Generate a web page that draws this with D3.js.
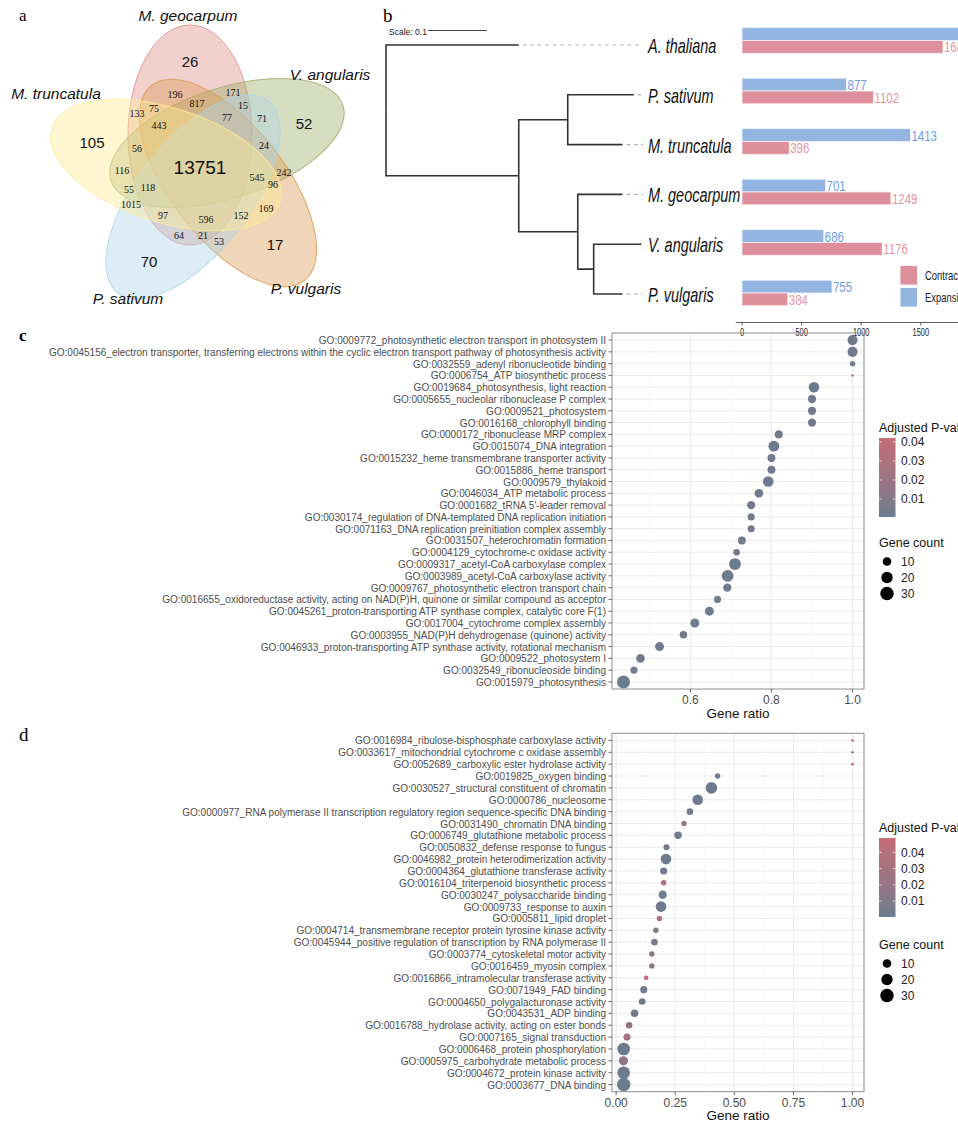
<!DOCTYPE html>
<html>
<head>
<meta charset="utf-8">
<script src="https://cdn.jsdelivr.net/npm/d3@7"></script>
<style>
  body { margin: 0; background: #fff; }
  svg { display: block; }
</style>
</head>
<body>
<div class="canvas"></div>
<script>
// ---------- panel a : five-set venn ----------
const vennSets = ["M. geocarpum", "V. angularis", "P. vulgaris", "P. sativum", "M. truncatula"];
const vennCounts = [26, 52, 17, 70, 105, 13751,
  196, 171, 817, 15, 133, 75, 77, 71, 443, 56, 24, 116, 242, 545,
  96, 55, 118, 1015, 169, 97, 596, 152, 64, 21, 53];

// ---------- panel b : tree + gene family bars ----------
const species = ["A. thaliana", "P. sativum", "M. truncatula", "M. geocarpum", "V. angularis", "P. vulgaris"];
const expansion = [2050, 877, 1413, 701, 686, 755];
const contraction = [1686, 1102, 396, 1249, 1176, 384];
const barTicks = [0, 500, 1000, 1500, 2000];
const branchLengths = {
  "A. thaliana": 0.225, "legumes": 0.225,
  "pea clade": 0.083, "P. sativum": 0.112, "M. truncatula": 0.093,
  "bean clade": 0.1, "M. geocarpum": 0.076,
  "phaseoloid": 0.027, "V. angularis": 0.081, "P. vulgaris": 0.049
};
const treeShape = ["root", "A. thaliana", ["legumes",
  ["pea clade", "P. sativum", "M. truncatula"],
  ["bean clade", "M. geocarpum", ["phaseoloid", "V. angularis", "P. vulgaris"]]]];

// ---------- panel c : GO enrichment (expanded) ----------
const cTerms = [
  "GO:0009772_photosynthetic electron transport in photosystem II",
  "GO:0045156_electron transporter, transferring electrons within the cyclic electron transport pathway of photosynthesis activity",
  "GO:0032559_adenyl ribonucleotide binding",
  "GO:0006754_ATP biosynthetic process",
  "GO:0019684_photosynthesis, light reaction",
  "GO:0005655_nucleolar ribonuclease P complex",
  "GO:0009521_photosystem",
  "GO:0016168_chlorophyll binding",
  "GO:0000172_ribonuclease MRP complex",
  "GO:0015074_DNA integration",
  "GO:0015232_heme transmembrane transporter activity",
  "GO:0015886_heme transport",
  "GO:0009579_thylakoid",
  "GO:0046034_ATP metabolic process",
  "GO:0001682_tRNA 5'-leader removal",
  "GO:0030174_regulation of DNA-templated DNA replication initiation",
  "GO:0071163_DNA replication preinitiation complex assembly",
  "GO:0031507_heterochromatin formation",
  "GO:0004129_cytochrome-c oxidase activity",
  "GO:0009317_acetyl-CoA carboxylase complex",
  "GO:0003989_acetyl-CoA carboxylase activity",
  "GO:0009767_photosynthetic electron transport chain",
  "GO:0016655_oxidoreductase activity, acting on NAD(P)H, quinone or similar compound as acceptor",
  "GO:0045261_proton-transporting ATP synthase complex, catalytic core F(1)",
  "GO:0017004_cytochrome complex assembly",
  "GO:0003955_NAD(P)H dehydrogenase (quinone) activity",
  "GO:0046933_proton-transporting ATP synthase activity, rotational mechanism",
  "GO:0009522_photosystem I",
  "GO:0032549_ribonucleoside binding",
  "GO:0015979_photosynthesis"
];
const cRatio = [1, 1, 1, 1, 0.905, 0.9, 0.9, 0.9, 0.818, 0.806, 0.8, 0.8, 0.792, 0.769, 0.75,
  0.75, 0.75, 0.727, 0.714, 0.71, 0.692, 0.691, 0.667, 0.647, 0.611, 0.583, 0.524, 0.477, 0.461, 0.435];
const cCount = [15, 15, 3, 1, 17, 9, 9, 9, 9, 18, 8, 8, 17, 10, 9, 6, 6, 8, 5, 22, 22, 9, 6, 11, 11, 7, 11, 10, 6, 28];
const cPadj = [0.002, 0.002, 0.003, 0.042, 0.001, 0.002, 0.002, 0.002, 0.002, 0.001, 0.002, 0.002, 0.001, 0.002, 0.002,
  0.002, 0.002, 0.002, 0.003, 0.001, 0.001, 0.002, 0.003, 0.002, 0.002, 0.003, 0.002, 0.002, 0.003, 0.0006];
const cTicks = [0.6, 0.8, 1.0];

// ---------- panel d : GO enrichment (contracted) ----------
const dTerms = [
  "GO:0016984_ribulose-bisphosphate carboxylase activity",
  "GO:0033617_mitochondrial cytochrome c oxidase assembly",
  "GO:0052689_carboxylic ester hydrolase activity",
  "GO:0019825_oxygen binding",
  "GO:0030527_structural constituent of chromatin",
  "GO:0000786_nucleosome",
  "GO:0000977_RNA polymerase II transcription regulatory region sequence-specific DNA binding",
  "GO:0031490_chromatin DNA binding",
  "GO:0006749_glutathione metabolic process",
  "GO:0050832_defense response to fungus",
  "GO:0046982_protein heterodimerization activity",
  "GO:0004364_glutathione transferase activity",
  "GO:0016104_triterpenoid biosynthetic process",
  "GO:0030247_polysaccharide binding",
  "GO:0009733_response to auxin",
  "GO:0005811_lipid droplet",
  "GO:0004714_transmembrane receptor protein tyrosine kinase activity",
  "GO:0045944_positive regulation of transcription by RNA polymerase II",
  "GO:0003774_cytoskeletal motor activity",
  "GO:0016459_myosin complex",
  "GO:0016866_intramolecular transferase activity",
  "GO:0071949_FAD binding",
  "GO:0004650_polygalacturonase activity",
  "GO:0043531_ADP binding",
  "GO:0016788_hydrolase activity, acting on ester bonds",
  "GO:0007165_signal transduction",
  "GO:0006468_protein phosphorylation",
  "GO:0005975_carbohydrate metabolic process",
  "GO:0004672_protein kinase activity",
  "GO:0003677_DNA binding"
];
const dRatio = [1, 1, 1, 0.429, 0.403, 0.345, 0.312, 0.287, 0.262, 0.213, 0.211, 0.201, 0.201, 0.197, 0.19,
  0.183, 0.168, 0.162, 0.151, 0.151, 0.127, 0.117, 0.11, 0.078, 0.055, 0.046, 0.032, 0.031, 0.032, 0.032];
const dCount = [1, 1, 1, 3, 21, 17, 5, 3, 7, 4, 17, 6, 3, 9, 17, 3, 3, 5, 3, 3, 2, 6, 5, 7, 5, 6, 26, 12, 26, 30];
const dPadj = [0.046, 0.046, 0.0488, 0.002, 0.001, 0.001, 0.002, 0.02, 0.003, 0.004, 0.001, 0.004, 0.035, 0.003, 0.001,
  0.035, 0.012, 0.006, 0.014, 0.014, 0.045, 0.003, 0.003, 0.004, 0.02, 0.03, 0.0005, 0.016, 0.001, 0.0002];
const dTicks = [0, 0.25, 0.5, 0.75, 1.0];

const pTicks = [0.01, 0.02, 0.03, 0.04];
const countTicks = [10, 20, 30];

// ---------- layout ----------
const width = 958;
const height = 1126;
const NARROW = "'Liberation Sans Narrow','Arial Narrow','Liberation Sans',Arial,sans-serif";
const SANS = "'Liberation Sans',Arial,Helvetica,sans-serif";
const SERIF = "'Liberation Serif','Times New Roman',serif";

const svg = d3.select(".canvas").append("svg")
  .attr("width", width).attr("height", height)
  .style("font-family", SANS);

function textWidth(str, size, family, style) {
  const t = svg.append("text").style("font-family", family).style("font-size", size + "px")
    .style("font-style", style || "normal").text(str);
  const w = t.node().getComputedTextLength();
  t.remove();
  return w;
}

// panel letters
svg.append("text").attr("x", 19).attr("y", 21).style("font-family", SERIF).style("font-size", "17px").text("a");
svg.append("text").attr("x", 383).attr("y", 22).style("font-family", SERIF).style("font-size", "19px").text("b");
svg.append("text").attr("x", 19).attr("y", 341).style("font-family", SERIF).style("font-size", "17px").style("font-weight", "bold").text("c");
svg.append("text").attr("x", 19).attr("y", 741).style("font-family", SERIF).style("font-size", "19px").text("d");

// ================= a : venn =================
const vennShapes = [
  { cx: 190, cy: 135, rx: 110, ry: 62, angle: 90, fill: "#DF8E8A" },
  { cx: 227, cy: 143, rx: 122, ry: 55, angle: -18, fill: "#A0AE6C" },
  { cx: 228, cy: 183, rx: 124, ry: 57, angle: 52, fill: "#DC9A55" },
  { cx: 193, cy: 197, rx: 122, ry: 56, angle: -52, fill: "#ABD5E8" },
  { cx: 166, cy: 165, rx: 120, ry: 57, angle: 18, fill: "#FFEB94" }
];
const vennNamePos = [[188, 16], [330, 75], [306, 289], [128, 299], [56, 94]];
const vennCountPos = [[190, 62], [304, 124], [275, 245], [149, 262], [92, 143], [200, 167],
  [175, 94], [233, 92], [197, 103], [243, 105], [137, 113], [154, 108], [227, 117], [262, 118], [159, 125],
  [137, 148], [264, 145], [122, 170], [284, 172], [257, 177], [273, 184], [129, 189], [148, 187], [131, 204],
  [266, 208], [163, 215], [206, 219], [241, 215], [179, 235], [203, 235], [219, 241]];

const venn = svg.append("g");
venn.selectAll("ellipse").data(vennShapes).enter().append("ellipse")
  .attr("transform", d => `translate(${d.cx},${d.cy}) rotate(${d.angle})`)
  .attr("rx", d => d.rx).attr("ry", d => d.ry)
  .attr("fill", d => d.fill).attr("fill-opacity", 0.42)
  .attr("stroke", d => d.fill).attr("stroke-opacity", 0.85).attr("stroke-width", 1);

venn.selectAll("text.set").data(vennSets).enter().append("text")
  .attr("class", "set")
  .attr("x", (d, i) => vennNamePos[i][0]).attr("y", (d, i) => vennNamePos[i][1])
  .attr("text-anchor", "middle").attr("dy", "0.35em")
  .style("font-style", "italic").style("font-size", "15.5px").attr("fill", "#111")
  .text(d => d);

venn.selectAll("text.count").data(vennCounts).enter().append("text")
  .attr("class", "count")
  .attr("x", (d, i) => vennCountPos[i][0]).attr("y", (d, i) => vennCountPos[i][1])
  .attr("text-anchor", "middle").attr("dy", "0.35em")
  .style("font-family", (d, i) => i < 6 ? SANS : SERIF)
  .style("font-size", (d, i) => i === 5 ? "19px" : i < 5 ? "15px" : "10px")
  .attr("fill", "#111")
  .text(d => d);

// ================= b : tree =================
function toNode(shape) {
  if (typeof shape === "string") return { name: shape, len: branchLengths[shape] || 0 };
  const [name, ...kids] = shape;
  return { name: name, len: branchLengths[name] || 0, children: kids.map(toNode) };
}
const root = d3.hierarchy(toNode(treeShape));
root.eachBefore(n => { n.dist = n.parent ? n.parent.dist + n.data.len : 0; });

const tx = d3.scaleLinear().domain([0, 0.1]).range([386, 445]);
const ty = d3.scalePoint().domain(species).range([45, 294]);
root.eachAfter(n => {
  n.py = n.children ? d3.mean(n.children, c => c.py) : ty(n.data.name);
});

const tree = svg.append("g");
tree.selectAll("path.branch").data(root.descendants().filter(n => n.parent)).enter().append("path")
  .attr("class", "branch")
  .attr("d", n => `M${tx(n.parent.dist)},${n.parent.py}V${n.py}H${tx(n.dist)}`)
  .attr("fill", "none").attr("stroke", "#333").attr("stroke-width", 1.6);

const tipEnd = 643;
tree.selectAll("line.dash").data(root.leaves().filter(n => tx(n.dist) < tipEnd - 6)).enter().append("line")
  .attr("x1", n => tx(n.dist) + 4).attr("x2", tipEnd)
  .attr("y1", n => n.py).attr("y2", n => n.py)
  .attr("stroke", "#AAAAAA").attr("stroke-width", 1.1).attr("stroke-dasharray", "3.5,4");

const tipScale = Math.min(1, 92.5 / textWidth("M. geocarpum", 20, NARROW, "italic"));
tree.selectAll("text.tip").data(root.leaves()).enter().append("text")
  .attr("transform", n => `translate(648,${n.py + 1}) scale(${tipScale},1)`)
  .attr("dy", "0.35em")
  .style("font-family", NARROW).style("font-style", "italic").style("font-size", "20px").attr("fill", "#111")
  .text(n => n.data.name);

// scale bar
const smallScale = Math.min(1, 38 / textWidth("Scale: 0.1", 9.5, NARROW));
tree.append("text").attr("transform", `translate(389,32) scale(${smallScale},1)`).attr("dy", "0.35em")
  .style("font-family", NARROW).style("font-size", "9.5px").attr("fill", "#222").text("Scale: 0.1");
tree.append("line").attr("x1", 428).attr("x2", 428 + tx(0.1) - tx(0)).attr("y1", 30.5).attr("y2", 30.5)
  .attr("stroke", "#444").attr("stroke-width", 1);

// bars
const bx = d3.scaleLinear().domain([0, 1500]).range([742, 920.8]);
const by = d3.scalePoint().domain(species).range([40.5, 293]);
const barH = 12.8;
const expCol = "#93B5E1", conCol = "#DD8F9B";
const expText = "#6B9EE6", conText = "#E8939E";

const bars = svg.append("g");
bars.selectAll("rect.exp").data(species).enter().append("rect")
  .attr("x", bx(0)).attr("y", d => by(d) - barH)
  .attr("width", (d, i) => bx(expansion[i]) - bx(0)).attr("height", barH)
  .attr("fill", expCol).attr("stroke", "#F0F3FA").attr("stroke-width", 0.8);
bars.selectAll("rect.con").data(species).enter().append("rect")
  .attr("x", bx(0)).attr("y", d => by(d))
  .attr("width", (d, i) => bx(contraction[i]) - bx(0)).attr("height", barH)
  .attr("fill", conCol).attr("stroke", "#FAEFF1").attr("stroke-width", 0.8);

const valScale = Math.min(1, 24.7 / textWidth("1102", 14.5, NARROW));
bars.selectAll("text.exp").data(species).enter().append("text")
  .attr("transform", (d, i) => `translate(${bx(expansion[i]) + 1},${by(d) - barH / 2}) scale(${valScale},1)`)
  .attr("dy", "0.38em").style("font-family", NARROW).style("font-size", "14.5px").attr("fill", expText)
  .text((d, i) => expansion[i]);
bars.selectAll("text.con").data(species).enter().append("text")
  .attr("transform", (d, i) => `translate(${bx(contraction[i]) + 1},${by(d) + barH / 2}) scale(${valScale},1)`)
  .attr("dy", "0.38em").style("font-family", NARROW).style("font-size", "14.5px").attr("fill", conText)
  .text((d, i) => contraction[i]);

const barAxis = bars.append("g").attr("transform", "translate(0,322.5)");
barAxis.append("line").attr("x1", 735.7).attr("x2", width).attr("stroke", "#333").attr("stroke-width", 0.8);
const tickScale = Math.min(1, 16.6 / textWidth("1000", 10, NARROW));
barAxis.selectAll("line.t").data(barTicks).enter().append("line")
  .attr("x1", d => bx(d)).attr("x2", d => bx(d)).attr("y1", 0).attr("y2", 3)
  .attr("stroke", "#333").attr("stroke-width", 0.8);
barAxis.selectAll("text").data(barTicks).enter().append("text")
  .attr("transform", d => `translate(${bx(d)},10) scale(${tickScale},1)`)
  .attr("text-anchor", "middle").attr("dy", "0.35em")
  .style("font-family", NARROW).style("font-size", "10px").attr("fill", "#222").text(d => d);

// legend
const legScale = Math.min(1, 33 / textWidth("Contrac", 13, NARROW));
const legItems = [["Contraction", conCol], ["Expansion", expCol]];
const leg = bars.selectAll("g.leg").data(legItems).enter().append("g")
  .attr("transform", (d, i) => `translate(900,${265.5 + i * 22})`);
leg.append("rect").attr("width", 17.5).attr("height", 19.5).attr("fill", d => d[1])
  .attr("stroke", "#fff").attr("stroke-width", 0.8);
leg.append("text").attr("transform", `translate(25,10) scale(${legScale},1)`).attr("dy", "0.35em")
  .style("font-family", NARROW).style("font-size", "13px").attr("fill", "#222").text(d => d[0]);

// ================= c & d : dot plots =================
const lowCol = "#6C7B8E", highCol = "#C56A78";
const size = d3.scaleSqrt().domain([0, 30]).range([1.3, 6.8]);
const labelScale = Math.min(1, 558 / textWidth(cTerms[1], 11.5, NARROW));

function dotPlot(cfg) {
  const left = 612, right = 864;
  const g = svg.append("g");
  const ext = d3.extent(cfg.ratio);
  const pad = (ext[1] - ext[0]) * 0.05;
  const x = d3.scaleLinear().domain([ext[0] - pad, ext[1] + pad]).range([left, right]);
  const y = d3.scalePoint().domain(cfg.terms).range([cfg.top, cfg.bottom]).padding(0.6);
  const color = d3.scaleLinear().domain(cfg.pDomain).range([lowCol, highCol]).interpolate(d3.interpolateLab);

  // grid
  const minor = d3.pairs(cfg.ticks).map(p => (p[0] + p[1]) / 2);
  const step = cfg.ticks[1] - cfg.ticks[0];
  if (cfg.ticks[0] - step / 2 > x.domain()[0]) minor.unshift(cfg.ticks[0] - step / 2);
  g.selectAll("line.minor").data(minor).enter().append("line")
    .attr("x1", d => x(d)).attr("x2", d => x(d)).attr("y1", cfg.top).attr("y2", cfg.bottom)
    .attr("stroke", "#F2F2F2").attr("stroke-width", 0.6);
  g.selectAll("line.major").data(cfg.ticks).enter().append("line")
    .attr("x1", d => x(d)).attr("x2", d => x(d)).attr("y1", cfg.top).attr("y2", cfg.bottom)
    .attr("stroke", "#EBEBEB").attr("stroke-width", 1);
  g.selectAll("line.row").data(cfg.terms).enter().append("line")
    .attr("x1", left).attr("x2", right).attr("y1", d => y(d)).attr("y2", d => y(d))
    .attr("stroke", "#EBEBEB").attr("stroke-width", 1);

  // points
  g.selectAll("circle.pt").data(cfg.terms).enter().append("circle")
    .attr("cx", (d, i) => x(cfg.ratio[i])).attr("cy", d => y(d))
    .attr("r", (d, i) => size(cfg.count[i] - 1))
    .attr("fill", (d, i) => color(cfg.padj[i]));

  g.append("rect").attr("x", left).attr("y", cfg.top).attr("width", right - left).attr("height", cfg.bottom - cfg.top)
    .attr("fill", "none").attr("stroke", "#8C8C8C").attr("stroke-width", 1);

  // y axis
  g.selectAll("line.yt").data(cfg.terms).enter().append("line")
    .attr("x1", left - 3.5).attr("x2", left).attr("y1", d => y(d)).attr("y2", d => y(d))
    .attr("stroke", "#444").attr("stroke-width", 0.8);
  g.selectAll("text.yl").data(cfg.terms).enter().append("text")
    .attr("transform", d => `translate(606,${y(d)}) scale(${labelScale},1)`)
    .attr("text-anchor", "end").attr("dy", "0.35em")
    .style("font-family", NARROW).style("font-size", "11.5px").attr("fill", "#4D4D4D")
    .text(d => d);

  // x axis
  g.selectAll("line.xt").data(cfg.ticks).enter().append("line")
    .attr("x1", d => x(d)).attr("x2", d => x(d)).attr("y1", cfg.bottom).attr("y2", cfg.bottom + 3.5)
    .attr("stroke", "#444").attr("stroke-width", 0.8);
  g.selectAll("text.xl").data(cfg.ticks).enter().append("text")
    .attr("x", d => x(d)).attr("y", cfg.bottom + 11).attr("text-anchor", "middle").attr("dy", "0.35em")
    .style("font-size", "12px").attr("fill", "#4D4D4D")
    .text(d => cfg.tickFormat(d));
  g.append("text").attr("x", (left + right) / 2).attr("y", cfg.bottom + 24).attr("text-anchor", "middle")
    .attr("dy", "0.35em").style("font-size", "13.5px").attr("fill", "#111").text("Gene ratio");

  // colour legend
  const lg = g.append("g").attr("transform", `translate(879,${cfg.legendTop})`);
  lg.append("text").attr("x", 0).attr("y", 0).attr("dy", "0.35em")
    .style("font-size", "12.5px").attr("fill", "#111").text("Adjusted P-value");
  const barTop = 10, barHeight = 79;
  const ly = d3.scaleLinear().domain(cfg.pDomain).range([barTop + barHeight, barTop]);
  const gid = "grad" + cfg.id;
  const grad = svg.append("defs").append("linearGradient").attr("id", gid)
    .attr("x1", 0).attr("x2", 0).attr("y1", 1).attr("y2", 0);
  d3.range(0, 1.0001, 0.1).forEach(t => {
    grad.append("stop").attr("offset", t)
      .attr("stop-color", color(cfg.pDomain[0] + t * (cfg.pDomain[1] - cfg.pDomain[0])));
  });
  lg.append("rect").attr("x", 0).attr("y", barTop).attr("width", 16.5).attr("height", barHeight)
    .attr("fill", `url(#${gid})`);
  lg.selectAll("line.lt").data(pTicks).enter().append("g").each(function (d) {
    const s = d3.select(this);
    s.append("line").attr("x1", 0).attr("x2", 3).attr("y1", ly(d)).attr("y2", ly(d))
      .attr("stroke", "#fff").attr("stroke-opacity", 0.6);
    s.append("line").attr("x1", 13.5).attr("x2", 16.5).attr("y1", ly(d)).attr("y2", ly(d))
      .attr("stroke", "#fff").attr("stroke-opacity", 0.6);
  });
  lg.selectAll("text.lt").data(pTicks).enter().append("text")
    .attr("x", 22).attr("y", d => ly(d)).attr("dy", "0.35em")
    .style("font-size", "12px").attr("fill", "#222").text(d => d.toFixed(2));

  // size legend
  const sg = g.append("g").attr("transform", `translate(879,${cfg.legendTop + cfg.sizeOffset})`);
  sg.append("text").attr("x", 0).attr("y", 0).attr("dy", "0.35em")
    .style("font-size", "12.5px").attr("fill", "#111").text("Gene count");
  sg.selectAll("circle").data(countTicks).enter().append("circle")
    .attr("cx", 8).attr("cy", (d, i) => 18.5 + i * 16).attr("r", d => size(d - 1)).attr("fill", "#000");
  sg.selectAll("text.c").data(countTicks).enter().append("text")
    .attr("x", 22).attr("y", (d, i) => 18.5 + i * 16).attr("dy", "0.35em")
    .style("font-size", "12px").attr("fill", "#222").text(d => d);
}

dotPlot({
  id: "c", terms: cTerms, ratio: cRatio, count: cCount, padj: cPadj,
  top: 333, bottom: 689, ticks: cTicks, tickFormat: d3.format(".1f"),
  pDomain: [0.0006, 0.042], legendTop: 428, sizeOffset: 115
});
dotPlot({
  id: "d", terms: dTerms, ratio: dRatio, count: dCount, padj: dPadj,
  top: 733.3, bottom: 1091.7, ticks: dTicks, tickFormat: d3.format(".2f"),
  pDomain: [0.0002, 0.0488], legendTop: 828, sizeOffset: 117
});
</script>
</body>
</html>
